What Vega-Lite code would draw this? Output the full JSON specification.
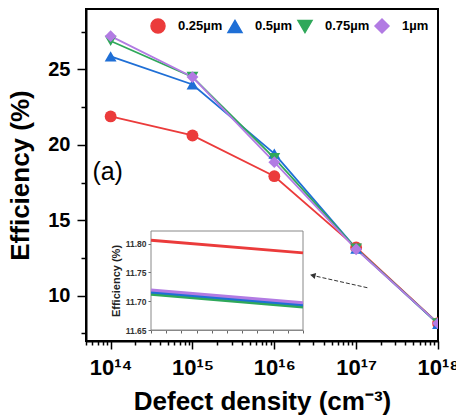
{
  "$schema": "https://vega.github.io/schema/vega-lite/v6.json",
  "width": 352,
  "height": 332,
  "autosize": {"type": "none"},
  "padding": {"left": 86, "top": 9, "right": 18, "bottom": 76},
  "config": {
    "font": "Liberation Sans",
    "view": {"stroke": "black", "strokeWidth": 2},
    "axis": {"grid": false}
  },
  "resolve": {"scale": {"x": "independent", "y": "independent"}},
  "layer": [
    {
      "data": {
        "values": [
          {"d": 1e14, "eff": 21.88, "t": "0.25µm"},
          {"d": 1e15, "eff": 20.62, "t": "0.25µm"},
          {"d": 1e16, "eff": 17.92, "t": "0.25µm"},
          {"d": 1e17, "eff": 13.2, "t": "0.25µm"},
          {"d": 1e18, "eff": 8.18, "t": "0.25µm"},
          {"d": 1e14, "eff": 25.86, "t": "0.5µm"},
          {"d": 1e15, "eff": 24.0, "t": "0.5µm"},
          {"d": 1e16, "eff": 19.42, "t": "0.5µm"},
          {"d": 1e17, "eff": 13.12, "t": "0.5µm"},
          {"d": 1e18, "eff": 8.14, "t": "0.5µm"},
          {"d": 1e14, "eff": 26.88, "t": "0.75µm"},
          {"d": 1e15, "eff": 24.5, "t": "0.75µm"},
          {"d": 1e16, "eff": 19.12, "t": "0.75µm"},
          {"d": 1e17, "eff": 13.12, "t": "0.75µm"},
          {"d": 1e18, "eff": 8.16, "t": "0.75µm"},
          {"d": 1e14, "eff": 27.2, "t": "1µm"},
          {"d": 1e15, "eff": 24.49, "t": "1µm"},
          {"d": 1e16, "eff": 18.85, "t": "1µm"},
          {"d": 1e17, "eff": 13.08, "t": "1µm"},
          {"d": 1e18, "eff": 8.17, "t": "1µm"}
        ]
      },
      "layer": [
        {
          "mark": {"type": "line", "strokeWidth": 1.8, "clip": true},
          "encoding": {
            "x": {
              "field": "d", "type": "quantitative",
              "scale": {"type": "log", "domain": [5e13, 1e18], "nice": false},
              "axis": {
                "title": "Defect density (cm⁻³)",
                "values": [5e13, 6e13, 7e13, 8e13, 9e13, 1e14, 2e14, 3e14, 4e14, 5e14, 6e14, 7e14, 8e14, 9e14, 1e15, 2e15, 3e15, 4e15, 5e15, 6e15, 7e15, 8e15, 9e15, 1e16, 2e16, 3e16, 4e16, 5e16, 6e16, 7e16, 8e16, 9e16, 1e17, 2e17, 3e17, 4e17, 5e17, 6e17, 7e17, 8e17, 9e17, 1e18],
                "labelExpr": "datum.value == 1e14 ? '10¹⁴' : datum.value == 1e15 ? '10¹⁵' : datum.value == 1e16 ? '10¹⁶' : datum.value == 1e17 ? '10¹⁷' : datum.value == 1e18 ? '10¹⁸' : ''",
                "labelFontSize": 22, "labelFontWeight": "bold", "labelColor": "black",
                "labelPadding": 8, "labelFlush": false, "labelOverlap": false, "labelBound": false,
                "tickColor": "black", "tickWidth": 1.5,
                "tickSize": {"condition": {"test": "datum.value == 1e14 || datum.value == 1e15 || datum.value == 1e16 || datum.value == 1e17 || datum.value == 1e18", "value": 8}, "value": 4},
                "domainColor": "black", "domainWidth": 2,
                "titleFontSize": 26, "titleFontWeight": "bold", "titleColor": "black", "titlePadding": 10
              }
            },
            "y": {
              "field": "eff", "type": "quantitative",
              "scale": {"domain": [7, 29], "nice": false, "zero": false},
              "axis": {
                "title": "Efficiency (%)",
                "values": [7.5, 10, 12.5, 15, 17.5, 20, 22.5, 25, 27.5],
                "labelExpr": "datum.value % 5 == 0 ? datum.label : ''",
                "labelFontSize": 20, "labelFontWeight": "bold", "labelColor": "black",
                "labelPadding": 7, "labelOverlap": false, "labelBound": false,
                "tickColor": "black", "tickWidth": 1.5,
                "tickSize": {"condition": {"test": "datum.value % 5 == 0", "value": 9}, "value": 5},
                "domainColor": "black", "domainWidth": 2,
                "titleFontSize": 26, "titleFontWeight": "bold", "titleColor": "black", "titlePadding": 14
              }
            },
            "color": {
              "field": "t", "type": "nominal",
              "scale": {"domain": ["0.25µm", "0.5µm", "0.75µm", "1µm"], "range": ["#EB3B3B", "#1F6FD6", "#2FA85A", "#B27BE3"]},
              "legend": {
                "title": null, "orient": "top-right", "direction": "horizontal", "offset": 9, "padding": 0,
                "labelFontSize": 13, "labelFontWeight": "bold", "labelColor": "black", "labelFont": "Liberation Sans",
                "symbolSize": 196, "labelOffset": 12, "columnPadding": 2,
                "encode": {
                  "symbols": {
                    "update": {
                      "shape": {"signal": "datum.value === '0.25µm' ? 'M-2.2,-0.13L2.2,-0.13L2.2,0.13L-2.2,0.13ZM-1,0A1,1,0,1,1,1,0A1,1,0,1,1,-1,0Z' : datum.value === '0.5µm' ? 'M-2.2,-0.13L2.2,-0.13L2.2,0.13L-2.2,0.13ZM0,-1.1L1.1,0.8L-1.1,0.8Z' : datum.value === '0.75µm' ? 'M-2.2,-0.13L2.2,-0.13L2.2,0.13L-2.2,0.13ZM0,1.1L1.1,-0.8L-1.1,-0.8Z' : 'M-2.2,-0.13L2.2,-0.13L2.2,0.13L-2.2,0.13ZM0,-1.15L1.15,0L0,1.15L-1.15,0Z'"},
                      "fill": {"scale": "color", "field": "value"},
                      "fillOpacity": {"value": 1},
                      "opacity": {"value": 1}
                    }
                  }
                }
              }
            }
          }
        },
        {
          "mark": {"type": "point", "filled": true, "opacity": 1, "size": 140, "clip": true},
          "encoding": {
            "x": {"field": "d", "type": "quantitative"},
            "y": {"field": "eff", "type": "quantitative"},
            "color": {
              "field": "t", "type": "nominal",
              "scale": {"domain": ["0.25µm", "0.5µm", "0.75µm", "1µm"], "range": ["#EB3B3B", "#1F6FD6", "#2FA85A", "#B27BE3"]},
              "legend": null
            },
            "shape": {
              "field": "t", "type": "nominal",
              "scale": {"domain": ["0.25µm", "0.5µm", "0.75µm", "1µm"], "range": ["circle", "triangle-up", "triangle-down", "diamond"]},
              "legend": null
            }
          }
        },
        {
          "data": {"values": [{}]},
          "mark": {"type": "text", "fontSize": 25, "font": "Liberation Sans", "align": "center", "baseline": "middle", "color": "black"},
          "encoding": {
            "x": {"datum": 9.2e13, "type": "quantitative"},
            "y": {"datum": 18.2, "type": "quantitative"},
            "text": {"value": "(a)"}
          }
        },
        {
          "data": {"values": [{}]},
          "mark": {"type": "rule", "color": "#333333", "strokeWidth": 1, "strokeDash": [4, 2]},
          "encoding": {
            "x": {"datum": 1.37e17, "type": "quantitative"},
            "y": {"datum": 10.53, "type": "quantitative"},
            "x2": {"datum": 2.9e16},
            "y2": {"datum": 11.35}
          }
        },
        {
          "data": {"values": [{}]},
          "mark": {"type": "point", "shape": "triangle-right", "angle": 193, "filled": true, "color": "#333333", "size": 40, "opacity": 1},
          "encoding": {
            "x": {"datum": 2.95e16, "type": "quantitative"},
            "y": {"datum": 11.35, "type": "quantitative"}
          }
        }
      ]
    },
    {
      "data": {
        "values": [
          {"ix": 0, "ie": 11.806, "t": "0.25µm"},
          {"ix": 1, "ie": 11.784, "t": "0.25µm"},
          {"ix": 0, "ie": 11.712, "t": "0.75µm"},
          {"ix": 1, "ie": 11.69, "t": "0.75µm"},
          {"ix": 0, "ie": 11.716, "t": "0.5µm"},
          {"ix": 1, "ie": 11.694, "t": "0.5µm"},
          {"ix": 0, "ie": 11.7195, "t": "1µm"},
          {"ix": 1, "ie": 11.6975, "t": "1µm"}
        ]
      },
      "layer": [
        {
          "data": {"values": [{}]},
          "mark": {"type": "rect", "fill": "white", "stroke": "#888888", "strokeWidth": 1},
          "encoding": {
            "x": {"datum": 0, "type": "quantitative",
              "scale": {"domain": [0, 1], "range": [65, 217], "nice": false, "zero": false},
              "axis": {"orient": "bottom", "offset": -11, "labels": false, "title": null, "tickCount": 14, "tickSize": 3, "domainColor": "#888888", "tickColor": "#666666"}
            },
            "x2": {"datum": 1},
            "y": {"datum": 11.65, "type": "quantitative",
              "scale": {"domain": [11.65, 11.822], "range": [321, 222], "nice": false, "zero": false},
              "axis": {
                "orient": "left", "offset": -65, "values": [11.65, 11.7, 11.75, 11.8], "format": ".2f",
                "labelFontSize": 8.5, "labelFontWeight": "bold", "labelColor": "#333333", "labelPadding": 2,
                "tickSize": 3, "tickColor": "#666666", "domainColor": "#888888",
                "title": "Efficiency (%)", "titleFontSize": 11, "titleFontWeight": "bold", "titleColor": "#222222", "titlePadding": 4
              }
            },
            "y2": {"datum": 11.822}
          }
        },
        {
          "mark": {"type": "line", "strokeWidth": 3},
          "encoding": {
            "x": {"field": "ix", "type": "quantitative"},
            "y": {"field": "ie", "type": "quantitative"},
            "color": {
              "field": "t", "type": "nominal",
              "scale": {"domain": ["0.25µm", "0.5µm", "0.75µm", "1µm"], "range": ["#EB3B3B", "#1F6FD6", "#2FA85A", "#B27BE3"]},
              "legend": null
            }
          }
        }
      ]
    }
  ]
}
